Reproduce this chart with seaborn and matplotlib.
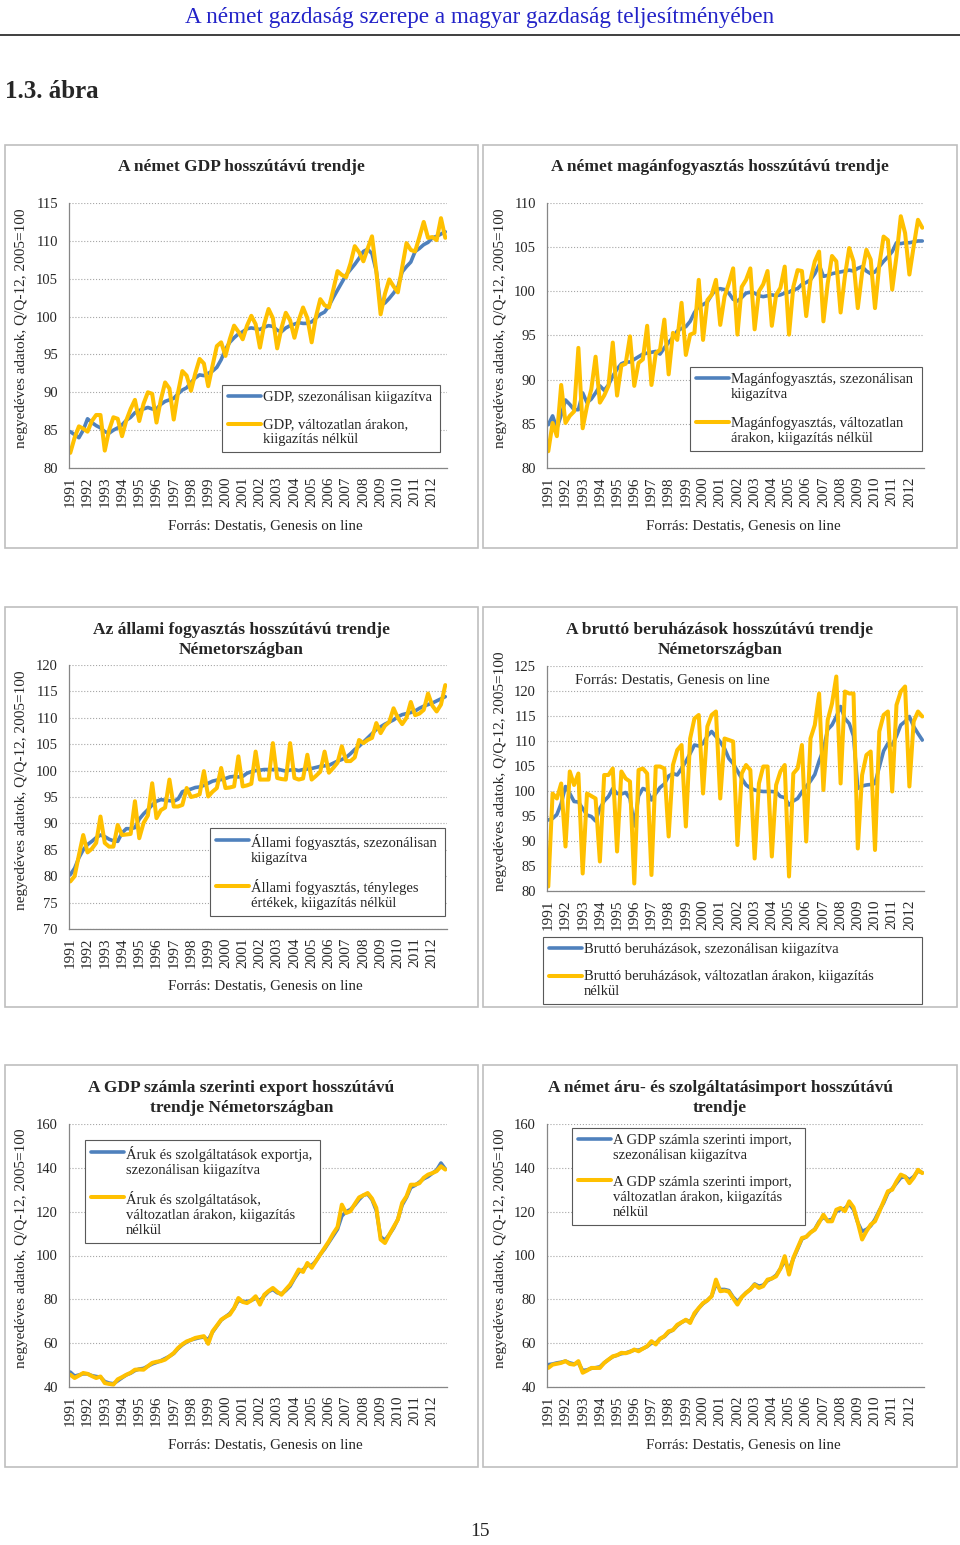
import numpy as np
import pandas as pd
import matplotlib
matplotlib.use('Agg')
import matplotlib.pyplot as plt
from matplotlib.patches import Rectangle
from matplotlib.lines import Line2D
from matplotlib.legend_handler import HandlerLine2D
import seaborn as sns

W, H = 960, 1545
BLUE = '#4f81bd'
YELLOW = '#ffc000'

years = list(range(1991, 2013))

# --- GDP (1991Q1 .. 2012Q4) ---
gdp_sa = [84.8, 84.4, 84.0, 85.0, 86.5, 86.0, 85.6, 85.3, 84.8, 84.6, 85.0, 85.3,
          85.7, 86.3, 86.7, 87.3, 87.6, 87.8, 88.0, 87.8, 87.8, 88.4, 88.8, 89.0,
          89.2, 89.8, 90.3, 90.6, 91.3, 91.9, 92.3, 92.2, 92.5, 92.8, 93.3, 94.3,
          95.7, 96.6, 97.2, 97.7, 98.0, 98.4, 98.5, 98.4, 98.3, 98.6, 98.8, 98.7,
          98.2, 98.0, 98.5, 98.8, 99.0, 99.2, 99.1, 99.1, 99.3, 99.8, 100.3, 100.6,
          101.4, 102.5, 103.5, 104.5, 105.5, 106.2, 106.9, 107.7, 108.6, 108.9, 108.3, 106.0,
          101.5, 101.8, 102.4, 103.1, 103.9, 105.9, 106.6, 107.2, 108.6, 109.0, 109.5, 109.8,
          110.4, 110.6, 110.9, 111.2]
gdp_raw = [82.0, 84.0, 85.5, 85.2, 84.8, 86.2, 87.0, 87.0, 82.3, 85.0, 86.7, 86.5,
           84.2, 86.3, 87.8, 89.0, 86.2, 88.5, 90.0, 89.8, 86.0, 89.0, 91.3, 90.5,
           86.4, 90.0, 92.8, 92.2, 90.2, 92.5, 94.4, 93.8, 90.8, 93.5, 96.1, 96.6,
           94.8, 97.0, 98.8, 98.0, 97.0, 98.8, 100.1, 99.0, 95.9, 99.0, 101.0, 99.8,
           95.8, 98.5, 100.5, 99.5, 97.2, 99.5, 101.2, 99.8, 96.6, 100.0, 102.3, 101.5,
           101.2, 103.5, 106.0, 105.5, 105.2, 107.0, 109.3, 108.5, 107.3, 109.0, 110.6, 106.0,
           100.3, 103.0, 104.9, 104.0, 103.2, 106.5, 109.7, 108.8, 108.6, 110.5, 112.5, 110.4,
           110.5, 110.1, 113.0, 110.4]

# --- private consumption ---
cons_sa = [84.9, 85.9, 84.5, 86.0, 87.7, 87.2, 86.6, 86.6, 88.5, 87.4, 87.8, 88.5,
           89.3, 88.8, 89.4, 90.4, 91.2, 91.8, 92.0, 92.0, 92.3, 92.6, 92.9, 93.0,
           93.1, 93.2, 92.9, 93.6, 94.2, 94.8, 95.5, 95.8, 96.0, 96.6, 97.6, 98.3,
           98.5, 98.8, 99.6, 100.2, 100.3, 100.2, 99.8, 99.1, 98.9, 99.3, 99.8, 99.9,
           99.8, 99.5, 99.4, 99.5, 99.6, 99.5, 99.6, 99.8, 99.9, 100.2, 100.3, 100.8,
           101.0, 101.3, 102.0, 103.0, 101.7, 101.8, 102.0, 102.1, 102.2, 102.3, 102.4, 102.3,
           102.6, 102.8, 102.3, 102.0, 102.2, 102.8, 103.4, 103.9, 104.5, 105.5, 105.4, 105.5,
           105.5, 105.6, 105.7, 105.7]
cons_raw = [81.9, 85.1, 83.6, 89.4, 85.1, 85.9, 86.4, 93.6, 84.5, 87.0, 88.9, 92.6,
            87.4, 88.2, 89.3, 94.2, 88.2, 91.6, 91.8, 94.9, 89.3, 91.9, 92.3, 96.1,
            89.4, 93.0, 93.4, 96.8, 90.6, 95.3, 94.5, 98.7, 92.8, 95.1, 95.3, 101.3,
            94.5, 99.0, 99.6, 101.3, 96.2, 99.4, 100.9, 102.6, 95.1, 100.5, 101.3, 102.6,
            95.7, 100.0, 100.8, 102.3, 96.1, 99.6, 100.4, 102.8, 95.1, 100.5, 102.4, 102.3,
            97.2, 101.3, 103.4, 104.5, 96.6, 100.9, 104.0, 103.4, 97.6, 101.7, 104.9, 103.4,
            98.1, 102.1, 104.7, 103.6, 98.1, 103.0, 106.2, 105.8, 100.2, 104.0, 108.5, 106.6,
            101.9, 105.1, 108.1, 107.2]

# --- government consumption ---
gov_sa = [80.3, 81.5, 83.5, 85.0, 86.0, 86.6, 87.3, 87.8, 87.5, 87.0, 86.7, 86.6,
          88.2, 89.0, 89.0, 89.2, 90.8, 91.8, 92.6, 93.5, 94.2, 94.5, 94.4, 94.3,
          94.2, 94.6, 96.0, 96.3, 96.5, 96.8, 96.9, 97.2, 97.6, 98.0, 98.2, 98.3,
          98.5, 98.8, 98.9, 98.8, 98.9, 99.5, 99.8, 100.0, 100.1, 100.2, 100.2, 100.2,
          100.3, 100.1, 99.9, 100.1, 100.2, 100.0, 100.2, 100.3, 100.4, 100.6, 100.8, 100.9,
          101.0, 101.4, 101.8, 102.1, 102.5, 103.2, 104.0, 104.6, 105.4, 106.2, 107.0, 107.8,
          108.3, 108.8, 109.2, 109.6, 110.2, 110.6, 110.8, 111.0, 111.3, 111.8, 112.2, 112.5,
          112.8, 113.2, 113.6, 114.0]
gov_raw = [79.0, 80.0, 84.0, 87.8, 84.5, 85.2, 86.3, 91.3, 86.3, 85.6, 85.6, 89.7,
           87.8, 87.9, 88.0, 94.2, 87.2, 90.1, 91.5, 97.6, 91.0, 92.5, 93.0, 98.3,
           93.2, 93.2, 93.5, 96.7, 95.0, 95.2, 95.5, 99.9, 95.1, 96.0, 96.7, 100.5,
           96.7, 96.8, 97.0, 102.7, 97.0, 97.2, 97.5, 103.6, 98.3, 98.3, 98.3, 105.2,
           98.6, 98.4, 98.3, 105.2, 98.6, 98.3, 98.5, 103.0, 98.3, 99.0, 99.8, 103.6,
           99.6, 100.5, 101.5, 104.6, 101.8, 101.8, 102.5, 105.8, 105.2, 105.8, 106.2, 109.0,
           107.1, 108.5, 109.2, 111.8, 110.0, 108.8, 110.0, 113.0, 110.5, 110.8, 111.5, 114.6,
           112.3, 111.2, 112.5, 116.2]

# --- gross investment ---
inv_sa = [94.2, 94.5, 95.3, 97.5, 100.9, 99.5, 97.9, 97.8, 96.5, 95.2, 94.9, 94.0,
          96.5, 98.0, 98.9, 100.5, 99.5, 99.4, 99.7, 98.5, 93.0, 99.0, 100.5, 100.2,
          98.2, 99.5, 100.7, 101.4, 103.0, 103.5, 103.2, 104.5, 105.9, 107.5, 109.2, 109.0,
          109.5, 111.0, 111.9, 110.9, 109.8, 108.5, 106.5, 105.5, 104.0, 102.5, 101.2, 100.6,
          100.2, 100.0, 99.9, 99.9, 99.9, 99.8, 98.9, 98.7, 97.2, 98.0, 98.5, 99.8,
          100.9, 102.0, 103.3, 106.0, 108.3, 112.3, 113.2, 114.9, 116.9, 114.5, 113.5, 111.0,
          100.5, 101.0, 101.2, 101.3, 101.5, 104.8, 108.0, 109.5, 109.2, 111.0, 113.2, 113.9,
          114.9, 112.9, 111.5, 110.2]
inv_raw = [80.9, 99.5, 98.5, 101.5, 88.9, 103.9, 101.2, 103.5, 83.5, 99.5, 99.0, 98.5,
           85.9, 103.2, 103.2, 104.5, 87.9, 103.9, 102.5, 101.9, 81.5, 104.2, 104.5, 103.5,
           83.2, 104.9, 104.9, 104.5, 90.9, 105.2, 108.2, 109.2, 92.9, 110.5, 114.5, 115.2,
           99.5, 112.9, 115.2, 115.9, 98.5, 110.5, 110.2, 109.9, 89.2, 103.5, 105.2, 104.2,
           86.5, 101.5, 104.9, 104.9, 86.9, 101.2, 103.9, 105.2, 82.9, 103.5, 104.5, 109.2,
           89.9, 110.5, 113.2, 119.5, 100.2, 114.2, 117.5, 122.9, 101.5, 119.9, 119.5, 119.5,
           88.5, 103.2, 107.2, 107.9, 88.2, 111.9, 115.2, 115.9, 99.9, 117.2, 119.9, 120.9,
           100.9, 113.9, 115.9, 114.9]

# --- exports ---
exp_sa = [46.8, 45.0, 45.5, 46.0, 46.0, 45.2, 44.8, 44.5, 42.5, 41.8, 41.5, 42.8,
          44.2, 45.5, 46.3, 47.5, 48.2, 48.5, 49.5, 50.5, 51.2, 52.0, 53.0, 54.0,
          55.3, 57.5, 59.2, 60.5, 61.5, 62.0, 62.5, 62.8, 61.5, 65.0, 67.8, 70.5,
          72.0, 73.5, 76.0, 79.5, 79.0, 79.0, 79.5, 80.5, 79.5, 81.5, 83.5, 84.5,
          83.0, 82.5, 84.0, 86.0, 89.5, 92.5, 93.5, 95.5, 95.5, 97.5, 100.5, 103.0,
          106.0, 109.0, 112.0, 118.0, 120.0, 121.0, 123.0, 125.5, 127.5, 128.0, 125.5, 120.5,
          108.5, 107.0, 109.5, 112.5, 116.5, 123.0, 126.5, 131.0, 132.0, 133.5, 135.0, 136.0,
          137.5, 139.0, 142.2, 139.5]
exp_raw = [45.6, 44.1, 45.2, 46.4, 46.0, 45.0, 44.1, 44.8, 41.8, 41.4, 41.1, 43.5,
           44.5, 45.6, 46.5, 47.9, 48.0, 47.9, 49.5, 51.0, 51.5, 51.8, 52.5, 54.0,
           55.5, 57.8, 59.5, 60.8, 61.5, 62.4, 62.8, 63.2, 59.7, 65.4, 68.0, 70.7,
           72.0, 73.0, 76.0, 80.6, 78.8, 78.3, 79.5, 81.4, 77.6, 82.1, 83.8, 85.2,
           83.5, 82.1, 84.5, 86.7, 90.0, 93.6, 92.5, 96.6, 94.4, 97.5, 100.5, 103.5,
           106.5, 110.0, 113.0, 123.2, 119.4, 120.2, 123.5, 126.5, 127.5, 128.5, 126.0, 121.7,
           107.3, 105.7, 109.5, 113.0, 116.4, 124.0, 127.0, 132.3, 132.3, 133.0, 135.5, 136.9,
           137.6, 138.5, 140.7, 139.2]

# --- imports ---
imp_sa = [50.2, 50.5, 51.0, 51.3, 51.8, 51.0, 50.5, 51.0, 47.5, 47.8, 48.5, 48.8,
          49.2, 51.0, 52.5, 53.8, 54.5, 55.2, 55.5, 56.2, 56.8, 56.8, 57.5, 58.5,
          60.0, 60.0, 62.0, 63.0, 65.0, 66.0, 68.0, 69.5, 70.5, 70.0, 73.0, 76.0,
          78.0, 79.5, 81.5, 87.0, 84.5, 84.5, 84.0, 81.0, 79.0, 81.0, 83.0, 84.5,
          87.0, 86.0, 86.5, 88.5, 89.5, 91.0, 94.0, 97.5, 93.5, 98.5, 103.0, 107.5,
          108.5, 110.5, 112.0, 115.5, 117.5, 116.0, 116.5, 120.0, 121.0, 121.5, 123.5, 121.0,
          115.0, 111.0, 111.9, 113.5, 116.5, 120.5, 124.0, 128.5, 130.5, 133.0, 135.5, 136.0,
          134.5, 136.0, 138.5, 137.8]
imp_raw = [48.7, 50.2, 50.6, 51.0, 51.8, 50.5, 50.2, 51.8, 46.5, 47.5, 48.7, 48.7,
           48.7, 51.0, 52.5, 54.0, 54.5, 55.6, 55.4, 56.0, 57.1, 56.3, 57.5, 58.6,
           60.9, 59.4, 62.0, 63.2, 65.4, 66.0, 68.4, 69.5, 70.7, 69.2, 73.7, 76.0,
           78.3, 79.5, 81.4, 89.0, 83.7, 84.0, 83.5, 80.5, 77.6, 81.0, 82.9, 84.5,
           86.7, 85.2, 86.0, 89.0, 89.5, 90.5, 94.0, 99.7, 91.3, 98.9, 103.5, 108.0,
           108.5, 110.5, 111.8, 115.0, 118.6, 115.6, 115.6, 120.9, 121.7, 120.2, 124.7, 122.0,
           115.0, 107.3, 111.0, 114.1, 115.6, 120.0, 124.7, 129.3, 130.0, 133.8, 136.9, 136.0,
           133.0, 135.5, 139.1, 137.6]

gdp_ticks = [80, 85, 90, 95, 100, 105, 110, 115]
cons_ticks = [80, 85, 90, 95, 100, 105, 110]
gov_ticks = [70, 75, 80, 85, 90, 95, 100, 105, 110, 115, 120]
inv_ticks = [80, 85, 90, 95, 100, 105, 110, 115, 120, 125]
trade_ticks = [40, 60, 80, 100, 120, 140, 160]

YLABEL = 'negyedéves adatok, Q/Q-12, 2005=100'
SOURCE = 'Forrás: Destatis, Genesis on line'

sns.set_style('white')
plt.rcParams['font.family'] = ['Liberation Serif', 'DejaVu Serif']

fig = plt.figure(figsize=(W / 100, H / 100), dpi=100)


def fx(x):
    return x / W


def fy(y):
    return 1 - y / H


class FirstLineHandler(HandlerLine2D):
    # put the legend line next to the first line of a multi-line label
    def __init__(self, nlines, **kw):
        super().__init__(**kw)
        self.nlines = nlines

    def create_artists(self, legend, orig_handle, xdescent, ydescent, width, height,
                       fontsize, trans):
        shift = (self.nlines - 1) * 0.6 * fontsize
        return super().create_artists(legend, orig_handle, xdescent, ydescent - 2 * shift,
                                      width, height, fontsize, trans)


def panel(box, plot, title, title_y, ticks, sa, raw, labels, leg_box, src_xy, src_ha='center'):
    bx0, by0, bx1, by1 = box
    fig.add_artist(Rectangle((fx(bx0), fy(by1)), (bx1 - bx0) / W, (by1 - by0) / H,
                             transform=fig.transFigure, fill=False,
                             edgecolor='#bfbfbf', linewidth=1.2))
    x0, y0, x1, y1 = plot
    ax = fig.add_axes([fx(x0), fy(y1), (x1 - x0) / W, (y1 - y0) / H])
    df = pd.DataFrame({'q': np.arange(len(sa)), 'sa': sa, 'raw': raw})
    sns.lineplot(data=df, x='q', y='sa', ax=ax, color=BLUE, linewidth=2.6, label=labels[0])
    sns.lineplot(data=df, x='q', y='raw', ax=ax, color=YELLOW, linewidth=2.9, label=labels[1])
    ax.set_xlim(-0.3, len(sa) - 0.6)
    ax.set_ylim(ticks[0], ticks[-1])
    ax.set_yticks(ticks)
    ax.set_yticklabels([str(t) for t in ticks], fontsize=10.5)
    ax.set_xticks(range(0, len(sa), 4))
    ax.set_xticklabels([str(y) for y in years], rotation=90, fontsize=11)
    ax.set_xticks(range(len(sa)), minor=True)
    ax.tick_params(axis='x', which='both', length=3, color='#868686', pad=3)
    ax.tick_params(axis='y', length=5, color='#868686', pad=3)
    ax.set_xlabel('')
    ax.set_ylabel('')
    ax.grid(axis='y', linestyle=':', color='#a6a6a6', linewidth=0.8)
    for s in ['top', 'right']:
        ax.spines[s].set_visible(False)
    for s in ['left', 'bottom']:
        ax.spines[s].set_color('#868686')
        ax.spines[s].set_linewidth(0.9)
    lx, ly, lw = leg_box
    handles, labs = ax.get_legend_handles_labels()
    hmap = {h: FirstLineHandler(l.count('\n') + 1) for h, l in zip(handles, labs)}
    leg = ax.legend(handles, labs, loc='upper left',
                    bbox_to_anchor=(fx(lx), fy(ly), lw / W, 0.0001), mode='expand',
                    bbox_transform=fig.transFigure, frameon=True, fancybox=False,
                    framealpha=1, edgecolor='#595959', fontsize=10.5, handlelength=2.3,
                    handletextpad=0.1, labelspacing=1.0, borderpad=0.4, borderaxespad=0,
                    handler_map=hmap)
    leg.get_frame().set_linewidth(0.8)
    fig.text(fx((bx0 + bx1) / 2), fy(title_y), title, ha='center', va='center',
             fontsize=12.5, fontweight='bold', linespacing=1.3)
    fig.text(fx(bx0 + 17), fy((y0 + y1) / 2 - 7), YLABEL, rotation=90, ha='center',
             va='center', fontsize=11)
    fig.text(fx(src_xy[0]), fy(src_xy[1]), SOURCE, ha=src_ha, va='center', fontsize=10.8)
    return ax


panel((5, 145, 478, 548), (69, 203, 447, 468), 'A német GDP hosszútávú trendje', 167,
      gdp_ticks, gdp_sa, gdp_raw,
      ['GDP, szezonálisan kiigazítva', 'GDP, változatlan árakon,\nkiigazítás nélkül'],
      (222, 385, 218), (265, 526))
panel((483, 145, 957, 548), (547, 203, 924, 468), 'A német magánfogyasztás hosszútávú trendje', 167,
      cons_ticks, cons_sa, cons_raw,
      ['Magánfogyasztás, szezonálisan\nkiigazítva', 'Magánfogyasztás, változatlan\nárakon, kiigazítás nélkül'],
      (690, 367, 232), (743, 526))
panel((5, 607, 478, 1007), (69, 665, 447, 929),
      'Az állami fogyasztás hosszútávú trendje\nNémetországban', 640,
      gov_ticks, gov_sa, gov_raw,
      ['Állami fogyasztás, szezonálisan\nkiigazítva', 'Állami fogyasztás, tényleges\nértékek, kiigazítás nélkül'],
      (210, 828, 235), (265, 986))
panel((483, 607, 957, 1007), (547, 666, 924, 891),
      'A bruttó beruházások hosszútávú trendje\nNémetországban', 640,
      inv_ticks, inv_sa, inv_raw,
      ['Bruttó beruházások, szezonálisan kiigazítva',
       'Bruttó beruházások, változatlan árakon, kiigazítás\nnélkül'],
      (543, 937, 379), (575, 680), src_ha='left')
panel((5, 1065, 478, 1467), (69, 1124, 447, 1387),
      'A GDP számla szerinti export hosszútávú\ntrendje Németországban', 1098,
      trade_ticks, exp_sa, exp_raw,
      ['Áruk és szolgáltatások exportja,\nszezonálisan kiigazítva',
       'Áruk és szolgáltatások,\nváltozatlan árakon, kiigazítás\nnélkül'],
      (85, 1140, 235), (265, 1445))
panel((483, 1065, 957, 1467), (547, 1124, 924, 1387),
      'A német áru- és szolgáltatásimport hosszútávú\ntrendje', 1098,
      trade_ticks, imp_sa, imp_raw,
      ['A GDP számla szerinti import,\nszezonálisan kiigazítva',
       'A GDP számla szerinti import,\nváltozatlan árakon, kiigazítás\nnélkül'],
      (572, 1128, 233), (743, 1445))

# page header and footer
fig.text(0.5, fy(17), 'A német gazdaság szerepe a magyar gazdaság teljesítményében',
         ha='center', va='center', fontsize=16.7, color='#2323c8')
fig.add_artist(Line2D([0, 1], [fy(35), fy(35)], transform=fig.transFigure,
                      color='#303030', linewidth=1.3))
fig.text(fx(5), fy(92), '1.3. ábra', ha='left', va='center', fontsize=18, fontweight='bold')
fig.text(0.5, fy(1532), '15', ha='center', va='center', fontsize=14)

fig.savefig('out.png', dpi=100)
